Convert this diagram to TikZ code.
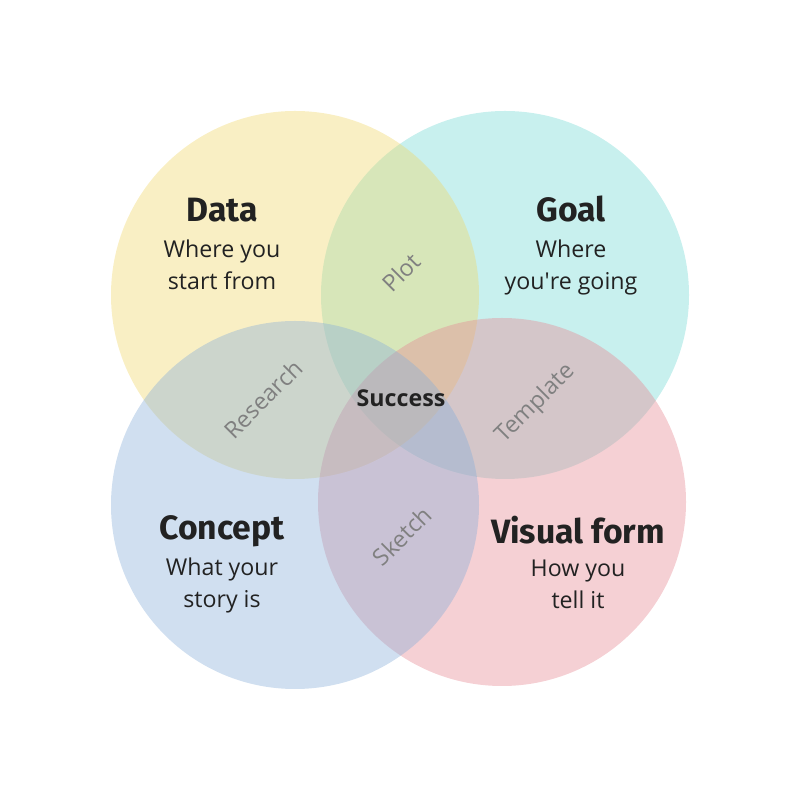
\documentclass[tikz,border=0pt]{standalone}
\usepackage{fontspec}
\setmainfont{Open Sans}
\newfontfamily\titlefont{Fira Sans}
\usetikzlibrary{positioning}

\definecolor{dataclr}{HTML}{F0D86C}
\definecolor{goalclr}{HTML}{75D9D4}
\definecolor{conceptclr}{HTML}{89AFD9}
\definecolor{formclr}{HTML}{E68993}
\definecolor{inkclr}{HTML}{222222}

\begin{document}
\begin{tikzpicture}[
  ring/.style={
    circle,
    minimum size=3.68cm,
    inner sep=0pt,
    fill opacity=0.4
  },
  headline/.style={
    font=\titlefont\bfseries\fontsize{9.6}{11}\selectfont,
    text=inkclr,
    anchor=base,
    text depth=0pt,
    inner sep=0pt
  },
  caption/.style={
    font=\fontsize{6.6}{9.1}\selectfont,
    text=inkclr,
    align=center,
    inner sep=0pt
  },
  overlap/.style={
    font=\fontsize{6.65}{8}\selectfont,
    text=black!50,
    rotate=45,
    inner sep=0pt
  }
]
\useasboundingbox (0,0) rectangle (8,8);

% circles, back to front
\node[ring, fill=goalclr] (goal) at (5.05,5.05) {};
\node[ring, fill=dataclr] (data) at (2.95,5.05) {};
\node[ring, fill=formclr] (form) at (5.02,2.98) {};
\node[ring, fill=conceptclr] (concept) at (2.95,2.95) {};

\node[headline] (dataT) at (2.22,5.78) {Data};
\node[caption, below=0.16cm of dataT] (dataC) {Where you\\start from};

\node[headline] (goalT) at (5.71,5.78) {Goal};
\node[caption, below=0.16cm of goalT] (goalC) {Where\\you\textquotesingle re going};

\node[headline] (conceptT) at (2.22,2.60) {Concept};
\node[caption, below=0.16cm of conceptT] (conceptC) {What your\\story is};

\node[headline] (formT) at (5.78,2.56) {Visual form};
\node[caption, below=0.15cm of formT] (formC) {How you\\tell it};

% overlap labels
\node[overlap] (plot) at (4.01,5.28) {Plot};
\node[overlap] (research) at (2.63,4.01) {Research};
\node[overlap] (template) at (5.36,3.96) {Template};
\node[overlap] (sketch) at (4.02,2.64) {Sketch};
\node[font=\bfseries\fontsize{6.6}{8}\selectfont, text=inkclr] (success) at (4.01,4.02) {Success};

\end{tikzpicture}
\end{document}
